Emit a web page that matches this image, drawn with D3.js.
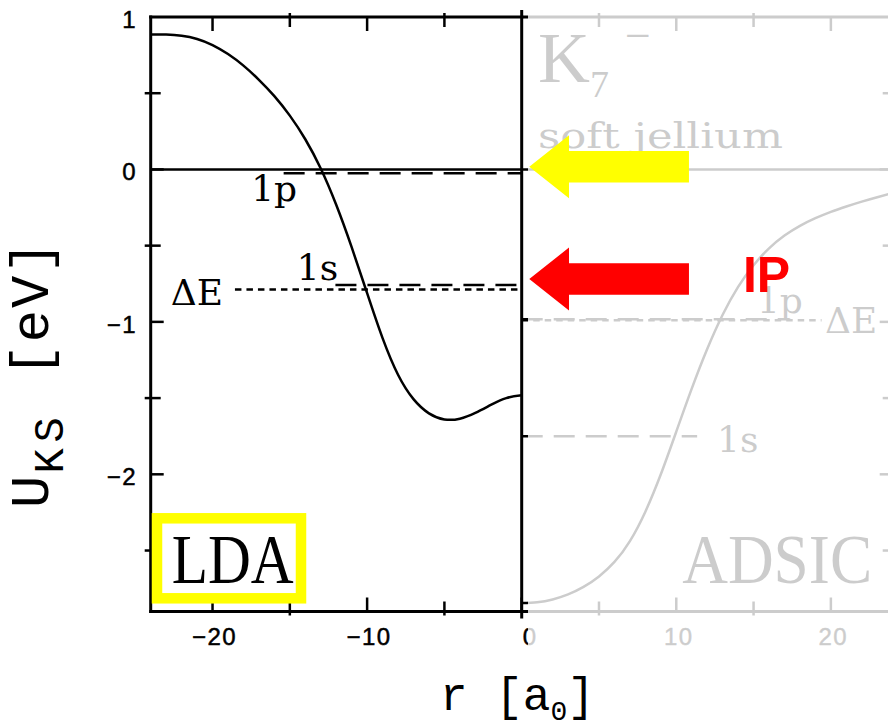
<!DOCTYPE html>
<html>
<head>
<meta charset="utf-8">
<script src="https://cdn.jsdelivr.net/npm/d3@7"></script>
<style>
  html, body { margin: 0; padding: 0; background: #fff; }
  svg { display: block; }
</style>
</head>
<body>
<svg id="chart" width="888" height="727"></svg>
<script>
// Kohn–Sham potential of K7− in soft jellium: LDA on the left (r < 0), ADSIC on the right (r > 0)

// LDA potential curve
const ldaR = [-24, -23, -22, -21, -20, -19, -18, -17, -16, -15, -14, -13, -12, -11, -10, -9, -8, -7, -6, -5, -4, -3, -2, -1, 0];
const ldaU = [0.886, 0.885, 0.877, 0.856, 0.816, 0.757, 0.681, 0.588, 0.481, 0.353, 0.198, 0.006, -0.232, -0.510, -0.812, -1.107, -1.347, -1.507, -1.600, -1.640, -1.635, -1.597, -1.545, -1.500, -1.482];

// ADSIC potential curve
const adsicR = [0, 1, 2, 3, 4, 5, 6, 7, 8, 9, 10, 11, 12, 13, 14, 15, 16, 17, 18, 19, 20, 21, 22, 23, 24];
const adsicU = [-2.845, -2.839, -2.821, -2.788, -2.739, -2.670, -2.575, -2.438, -2.245, -2.000, -1.720, -1.438, -1.178, -0.953, -0.770, -0.628, -0.518, -0.434, -0.370, -0.320, -0.278, -0.243, -0.211, -0.182, -0.155];

// single-particle levels (eV) and the extent of their lines (a0)
const ldaLevelNames = ["1p", "1s"];
const ldaLevelU = [-0.025, -0.758];
const ldaLevelFrom = [-15.4, -12.05];
const ldaDeltaE = -0.787;
const ldaDeltaEFrom = -18.55;

const adsicLevelNames = ["1p", "1s"];
const adsicLevelU = [-0.983, -1.75];
const adsicLevelTo = [17.3, 11.35];
const adsicDeltaE = -0.99;
const adsicDeltaETo = 19.4;

// axis ticks and labels
const rTicksLeft = [-20, -15, -10, -5, 0];
const rTicksRight = [0, 5, 10, 15, 20];
const rLabelsLeft = [-20, -10];
const rLabelsRight = [0, 10, 20];
const uTicks = [1, 0.5, 0, -0.5, -1, -1.5, -2, -2.5];
const uLabels = [1, 0, -1, -2];

// arrows marking the ionisation potential: yellow (LDA 1p) and red (ΔE)
const arrowU = [0.018, -0.719];
const arrowColors = ["#ffff00", "#ff0000"];
const arrowTipR = 0.49, arrowHeadR = 3.06, arrowTailR = 10.82;

const svg = d3.select("#chart");
const x = d3.scaleLinear().domain([-24, 24]).range([150.7, 892.7]);
const y = d3.scaleLinear().domain([-2.9, 1]).range([611.5, 17]);

const AXW = 3;
const serifBig = "'Liberation Serif', 'Times New Roman', serif";
const serifLbl = "'DejaVu Serif', serif";
const mono = "'Liberation Mono', 'DejaVu Sans Mono', monospace";
const sans = "'Liberation Sans', Arial, sans-serif";
const fmt = v => (v < 0 ? "\u2212" + Math.abs(v) : String(v));

svg.append("rect").attr("width", 888).attr("height", 727).attr("fill", "#fff");

const curve = d3.line()
  .x(d => x(d[0])).y(d => y(d[1]))
  .curve(d3.curveNatural);

function seg(g, x1, y1, x2, y2, w, dash) {
  const l = g.append("line")
    .attr("x1", x1).attr("y1", y1).attr("x2", x2).attr("y2", y2)
    .attr("stroke", "#000").attr("stroke-width", w);
  if (dash) l.attr("stroke-dasharray", dash);
  return l;
}

// ticks on horizontal axes: majors (multiples of 10) inside, minors cross the axis
function rTicks(g, vals, yPix, dir) {
  g.selectAll(null).data(vals).join("line")
    .attr("x1", d => x(d)).attr("x2", d => x(d))
    .attr("y1", d => (d % 10 === 0 ? yPix : yPix - dir * 4))
    .attr("y2", d => (d % 10 === 0 ? yPix + dir * 14 : yPix + dir * 10))
    .attr("stroke", "#000").attr("stroke-width", 2.5);
}
function uTickMarks(g, vals, xPix, dir) {
  g.selectAll(null).data(vals).join("line")
    .attr("y1", d => y(d)).attr("y2", d => y(d))
    .attr("x1", d => (Number.isInteger(d) ? xPix : xPix - dir * 6))
    .attr("x2", d => (Number.isInteger(d) ? xPix + dir * 13 : xPix + dir * 10))
    .attr("stroke", "#000").attr("stroke-width", 2.5);
}

// ---------------- ADSIC panel (r >= 0) ----------------
const gR = svg.append("g");
seg(gR, x(0), y(1), x(24), y(1), AXW);
seg(gR, x(0), y(-2.9), x(24), y(-2.9), AXW);
seg(gR, x(24), y(1), x(24), y(-2.9), AXW);
seg(gR, x(0), y(0), x(24), y(0), 2.5);
rTicks(gR, rTicksRight.filter(d => d > 0), y(1), 1);
rTicks(gR, rTicksRight.filter(d => d > 0), y(-2.9), -1);
uTickMarks(gR, uTicks.filter(d => d < 1 && d > -2.9), x(24), -1);

gR.selectAll(null).data(rLabelsRight).join("text")
  .attr("x", d => x(d) + (d === 0 ? 8.5 : 2.5))
  .attr("y", 645)
  .attr("text-anchor", "middle")
  .attr("font-family", sans).attr("font-size", 24)
  .attr("stroke", "#000").attr("stroke-width", 0.5)
  .attr("letter-spacing", 1.5)
  .text(d => fmt(d));

gR.selectAll(null).data(adsicLevelU).join("line")
  .attr("x1", x(0)).attr("x2", (d, i) => x(adsicLevelTo[i]))
  .attr("y1", d => y(d)).attr("y2", d => y(d))
  .attr("stroke", "#000").attr("stroke-width", 2.5).attr("stroke-dasharray", "21,11");
seg(gR, x(0), y(adsicDeltaE), x(adsicDeltaETo), y(adsicDeltaE), 2.5, "6.5,5");

gR.append("path")
  .attr("d", curve(adsicR.map((r, i) => [r, adsicU[i]])))
  .attr("fill", "none").attr("stroke", "#000").attr("stroke-width", 2.5);

const adsicLabelR = [15.22, 12.64];
const adsicLabelU = [-0.942, -1.854];
gR.selectAll(null).data(adsicLevelNames).join("text")
  .attr("x", (d, i) => x(adsicLabelR[i])).attr("y", (d, i) => y(adsicLabelU[i]))
  .attr("font-family", serifLbl).attr("font-size", 36)
  .text(d => d);
gR.append("text").attr("x", x(19.62)).attr("y", y(-1.073))
  .attr("font-family", serifLbl).attr("font-size", 36).text("\u0394E");

const kT = gR.append("text").attr("x", 538).attr("y", 82).attr("font-family", serifBig);
kT.append("tspan").attr("font-size", 72).text("K");
kT.append("tspan").attr("font-size", 38).attr("dy", 15).text("7");
kT.append("tspan").attr("font-size", 46).attr("dx", 16).attr("dy", -46).text("\u2212");
gR.append("text").attr("x", 538).attr("y", 148)
  .attr("font-family", serifLbl).attr("font-size", 36)
  .attr("textLength", 245).attr("lengthAdjust", "spacingAndGlyphs")
  .text("soft jellium");
gR.append("text").attr("x", x(10.38)).attr("y", y(-2.713))
  .attr("font-family", serifBig).attr("font-size", 69)
  .attr("textLength", 190).attr("lengthAdjust", "spacingAndGlyphs")
  .text("ADSIC");

// fade the ADSIC panel
svg.append("rect").attr("x", 528).attr("y", 0).attr("width", 360).attr("height", 727)
  .attr("fill", "#fff").attr("fill-opacity", 0.8);

// ---------------- LDA panel (r <= 0) ----------------
const gL = svg.append("g");
seg(gL, x(-24), y(1), x(0), y(1), AXW).attr("stroke-linecap", "square");
seg(gL, x(-24), y(-2.9), x(0), y(-2.9), AXW).attr("stroke-linecap", "square");
seg(gL, x(-24), y(1), x(-24), y(-2.9), AXW).attr("stroke-linecap", "square");
seg(gL, x(-24), y(0), x(0), y(0), 2.5);
seg(gL, x(0), y(1) - 7, x(0), y(-2.9) + 7, AXW);
rTicks(gL, rTicksLeft.filter(d => d < 0), y(1), 1);
rTicks(gL, rTicksLeft, y(-2.9), -1);
uTickMarks(gL, uTicks.filter(d => d < 1), x(-24), 1);

gL.selectAll(null).data(uLabels).join("text")
  .attr("x", 137).attr("y", d => y(d) + 11)
  .attr("text-anchor", "end")
  .attr("font-family", sans).attr("font-size", 24)
  .attr("stroke", "#000").attr("stroke-width", 0.5)
  .attr("letter-spacing", 1.5)
  .text(d => fmt(d));
gL.selectAll(null).data(rLabelsLeft).join("text")
  .attr("x", d => x(d) + 2).attr("y", 645)
  .attr("text-anchor", "middle")
  .attr("font-family", sans).attr("font-size", 24)
  .attr("stroke", "#000").attr("stroke-width", 0.5)
  .attr("letter-spacing", 1.5)
  .text(d => fmt(d));

gL.selectAll(null).data(ldaLevelU).join("line")
  .attr("x1", (d, i) => x(ldaLevelFrom[i])).attr("x2", x(0))
  .attr("y1", d => y(d)).attr("y2", d => y(d))
  .attr("stroke", "#000").attr("stroke-width", 2.5).attr("stroke-dasharray", "21,11");
seg(gL, x(ldaDeltaEFrom), y(ldaDeltaE), x(0), y(ldaDeltaE), 2.5, "6.5,5");

gL.append("path")
  .attr("d", curve(ldaR.map((r, i) => [r, ldaU[i]])))
  .attr("fill", "none").attr("stroke", "#000").attr("stroke-width", 2.5);

const ldaLabelR = [-17.5, -14.55];
const ldaLabelU = [-0.207, -0.726];
gL.selectAll(null).data(ldaLevelNames).join("text")
  .attr("x", (d, i) => x(ldaLabelR[i])).attr("y", (d, i) => y(ldaLabelU[i]))
  .attr("font-family", serifLbl).attr("font-size", 36)
  .text(d => d);
gL.append("text").attr("x", x(-22.7)).attr("y", y(-0.889))
  .attr("font-family", serifLbl).attr("font-size", 36).text("\u0394E");

// method tag
gL.append("rect").attr("x", 157).attr("y", 518.3).attr("width", 144).attr("height", 80)
  .attr("fill", "#fff").attr("stroke", "#ffff00").attr("stroke-width", 10.5);
gL.append("text").attr("x", 171.7).attr("y", 583.3)
  .attr("font-family", serifBig).attr("font-size", 69)
  .attr("textLength", 122).attr("lengthAdjust", "spacingAndGlyphs")
  .text("LDA");

// axis titles
const xt = svg.append("text").attr("x", 440).attr("y", 710)
  .attr("font-family", mono).attr("font-size", 46);
xt.append("tspan").text("r [a");
xt.append("tspan").attr("font-size", 28).attr("dy", 10).text("0");
xt.append("tspan").attr("dy", -10).text("]");

const yt = svg.append("text").attr("transform", "translate(48,508) rotate(-90)")
  .attr("font-family", mono).attr("font-size", 54).attr("letter-spacing", 2);
yt.append("tspan").text("U");
yt.append("tspan").attr("font-size", 42).attr("letter-spacing", 6).attr("dy", 15).text("KS");
yt.append("tspan").attr("dy", -15).attr("letter-spacing", 2).text(" [eV]");

// IP arrows
const arrowPts = u => {
  const yc = y(u), hh = 31.5, sh = 15.8;
  return [
    [x(arrowTipR), yc],
    [x(arrowHeadR), yc - hh],
    [x(arrowHeadR), yc - sh],
    [x(arrowTailR), yc - sh],
    [x(arrowTailR), yc + sh],
    [x(arrowHeadR), yc + sh],
    [x(arrowHeadR), yc + hh]
  ];
};
svg.selectAll(null).data(arrowU).join("polygon")
  .attr("points", d => arrowPts(d).map(p => p.join(",")).join(" "))
  .attr("fill", (d, i) => arrowColors[i]);

svg.append("text")
  .attr("x", x(arrowTailR) + 54).attr("y", y(arrowU[1]) + 12.7)
  .attr("font-family", sans).attr("font-weight", "bold").attr("font-size", 50)
  .attr("fill", "#ff0000")
  .text("IP");
</script>
</body>
</html>
